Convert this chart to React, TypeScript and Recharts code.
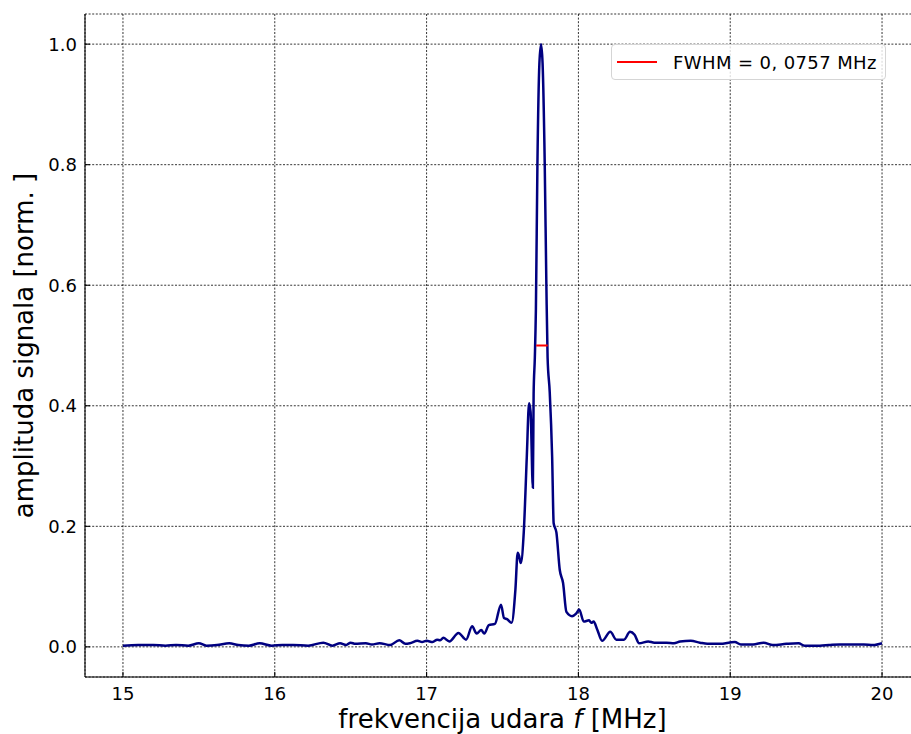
import React from "react";
import {
  LineChart,
  Line,
  XAxis,
  YAxis,
  CartesianGrid,
  Legend,
} from "recharts";

const FONT = "'DejaVu Sans', sans-serif";

// beat frequency [MHz]
const freq = [
  15.0, 15.1, 15.2, 15.28, 15.35, 15.43, 15.5, 15.55, 15.62, 15.7, 15.76, 15.83,
  15.9, 15.98, 16.05, 16.12, 16.22, 16.32, 16.38, 16.43, 16.47, 16.5, 16.53,
  16.6, 16.64, 16.69, 16.76, 16.82, 16.86, 16.89, 16.94, 16.97, 17.0, 17.04,
  17.07, 17.09, 17.11, 17.15, 17.21, 17.26, 17.3, 17.33, 17.36, 17.38, 17.41,
  17.45, 17.49, 17.51, 17.53, 17.56, 17.585, 17.6, 17.61, 17.62, 17.64, 17.66,
  17.675, 17.685, 17.7, 17.705, 17.713, 17.72, 17.73, 17.743, 17.754, 17.764,
  17.778, 17.789, 17.797, 17.811, 17.827, 17.837, 17.855, 17.877, 17.899,
  17.921, 17.958, 17.985, 18.005, 18.035, 18.07, 18.085, 18.1, 18.125, 18.156,
  18.21, 18.25, 18.3, 18.34, 18.37, 18.4, 18.46, 18.5, 18.58, 18.63, 18.67,
  18.74, 18.8, 18.85, 18.93, 19.03, 19.07, 19.15, 19.22, 19.28, 19.37, 19.45,
  19.49, 19.59, 19.65, 19.72, 19.8, 19.88, 19.94, 20.0,
];

// normalised signal amplitude
const amp = [
  0.002, 0.003, 0.003, 0.002, 0.003, 0.002, 0.006, 0.002, 0.003, 0.006, 0.003,
  0.002, 0.006, 0.002, 0.003, 0.003, 0.002, 0.007, 0.002, 0.006, 0.003, 0.007,
  0.005, 0.006, 0.004, 0.006, 0.003, 0.011, 0.005, 0.006, 0.01, 0.008, 0.01,
  0.008, 0.012, 0.011, 0.015, 0.009, 0.023, 0.012, 0.034, 0.022, 0.028, 0.022,
  0.036, 0.038, 0.07, 0.048, 0.046, 0.04, 0.095, 0.156, 0.15, 0.139, 0.19,
  0.315, 0.404, 0.39, 0.264, 0.42, 0.48, 0.56, 0.8, 0.968, 1.0, 0.968, 0.804,
  0.6, 0.48, 0.423, 0.315, 0.205, 0.19, 0.128, 0.106, 0.058, 0.051, 0.055,
  0.062, 0.042, 0.044, 0.04, 0.042, 0.028, 0.01, 0.025, 0.012, 0.012, 0.025,
  0.02, 0.006, 0.009, 0.007, 0.007, 0.006, 0.009, 0.01, 0.007, 0.005, 0.005,
  0.008, 0.004, 0.004, 0.007, 0.003, 0.005, 0.006, 0.002, 0.002, 0.003, 0.004,
  0.004, 0.004, 0.003, 0.006,
];

// half-maximum segment
const fwhmF = [17.722, 17.798];
const fwhmA = [0.5, 0.5];

const xTicks = [15, 16, 17, 18, 19, 20];
const yTicks = [0, 0.2, 0.4, 0.6, 0.8, 1.0];

const data = freq.map((f, i) => ({ f, a: amp[i] }));
const fwhmData = fwhmF.map((f, i) => ({ f, a: fwhmA[i] }));

const XTick = ({ x, y, payload }: any) => (
  <g>
    <line x1={x} y1={y} x2={x} y2={y - 5} stroke="#000" strokeWidth={1.1} />
    <text x={x} y={y + 23} textAnchor="middle" fontSize={18} fontFamily={FONT} fill="#000">
      {payload.value}
    </text>
  </g>
);

const TopTick = ({ x, y }: any) => (
  <line x1={x} y1={y} x2={x} y2={y + 5} stroke="#000" strokeWidth={1.1} />
);

const YTick = ({ x, y, payload }: any) => (
  <g>
    <line x1={x} y1={y} x2={x + 5} y2={y} stroke="#000" strokeWidth={1.1} />
    <text x={x - 8} y={y + 6.5} textAnchor="end" fontSize={18} fontFamily={FONT} fill="#000">
      {Number(payload.value).toFixed(1)}
    </text>
  </g>
);

const XLabel = ({ viewBox }: any) => (
  <text
    x={viewBox.x + viewBox.width / 2}
    y={viewBox.y + 51}
    textAnchor="middle"
    fontSize={26}
    fontFamily={FONT}
    fill="#000"
  >
    frekvencija udara <tspan fontStyle="italic">f</tspan> [MHz]
  </text>
);

const YLabel = ({ viewBox }: any) => {
  const cx = 33;
  const cy = viewBox.y + viewBox.height / 2;
  return (
    <text
      x={cx}
      y={cy}
      transform={`rotate(-90 ${cx} ${cy})`}
      textAnchor="middle"
      fontSize={26}
      fontFamily={FONT}
      fill="#000"
    >
      amplituda signala [norm. ]
    </text>
  );
};

const LegendBox = ({ payload }: any) => (
  <div
    style={{
      display: "flex",
      alignItems: "center",
      width: 275,
      height: 36,
      boxSizing: "border-box",
      border: "1px solid #d5d5d5",
      borderRadius: 4,
      background: "rgba(255,255,255,0.8)",
      fontFamily: FONT,
      fontSize: 18,
      letterSpacing: 0.4,
      color: "#000",
    }}
  >
    {(payload || [])
      .filter((p: any) => p.type !== "none" && p.color === "#ff0000")
      .map((p: any) => (
        <React.Fragment key={p.value}>
          <svg width={61} height={34} style={{ flex: "none" }}>
            <line x1={5} y1={17} x2={45} y2={17} stroke={p.color} strokeWidth={2} />
          </svg>
          <span style={{ whiteSpace: "nowrap" }}>{p.value}</span>
        </React.Fragment>
      ))}
  </div>
);

export default function App() {
  return (
    <div
      style={{
        position: "absolute",
        left: 0,
        top: 0,
        width: 911,
        height: 734,
        overflow: "hidden",
        background: "#fff",
      }}
    >
      <LineChart
        width={925}
        height={734}
        data={data}
        margin={{ top: 14, right: 5, left: 0, bottom: 0 }}
      >
        <CartesianGrid stroke="#000" strokeWidth={0.8} strokeDasharray="2 1.6" />
        <XAxis
          dataKey="f"
          type="number"
          domain={[14.75, 20.25]}
          ticks={xTicks}
          interval={0}
          height={57}
          tickSize={0}
          tickMargin={0}
          tickLine={false}
          axisLine={{ stroke: "#000", strokeWidth: 1.1 }}
          tick={<XTick />}
          label={<XLabel />}
        />
        <XAxis
          xAxisId="top"
          orientation="top"
          dataKey="f"
          type="number"
          domain={[14.75, 20.25]}
          ticks={xTicks}
          interval={0}
          height={0}
          tickSize={0}
          tickMargin={0}
          tickLine={false}
          axisLine={{ stroke: "#000", strokeWidth: 1.1 }}
          tick={<TopTick />}
        />
        <YAxis
          type="number"
          domain={[-0.05, 1.05]}
          ticks={yTicks}
          interval={0}
          width={85}
          tickSize={0}
          tickMargin={0}
          tickLine={false}
          axisLine={{ stroke: "#000", strokeWidth: 1.1 }}
          tick={<YTick />}
          label={<YLabel />}
        />
        <Legend
          layout="horizontal"
          verticalAlign="middle"
          align="center"
          wrapperStyle={{ position: "absolute", top: 44, left: 611, width: "auto" }}
          content={<LegendBox />}
        />
        <Line
          dataKey="a"
          type="monotone"
          stroke="#000080"
          strokeWidth={2.5}
          dot={false}
          legendType="none"
          isAnimationActive={false}
        />
        <Line
          data={fwhmData}
          dataKey="a"
          name="FWHM = 0, 0757 MHz"
          type="linear"
          stroke="#ff0000"
          strokeWidth={2}
          dot={false}
          isAnimationActive={false}
        />
      </LineChart>
    </div>
  );
}
